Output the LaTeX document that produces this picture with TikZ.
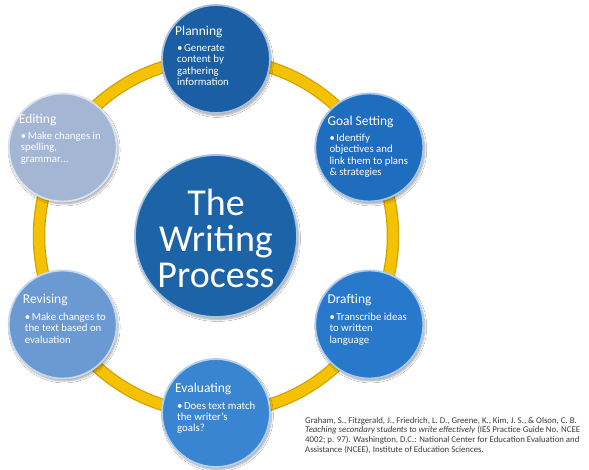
\documentclass[tikz,border=0pt]{standalone}
\usepackage{fontspec}
\setmainfont{Carlito}
\usetikzlibrary{positioning,shadows.blur}
\definecolor{aro}{HTML}{F4C200}
\definecolor{arof}{HTML}{D4A000}
\definecolor{azulc}{HTML}{1C63A7}
\definecolor{azul1}{HTML}{1B5EA4}
\definecolor{azul2}{HTML}{1E6DBE}
\definecolor{azul3}{HTML}{2878CB}
\definecolor{azul4}{HTML}{3A85D1}
\definecolor{azul5}{HTML}{6A9AD1}
\definecolor{azul6}{HTML}{A3B6D4}
\definecolor{cita}{HTML}{3A3A3A}
\newcommand{\bul}{\textbullet\hspace{1.5pt}}

\begin{document}
\begin{tikzpicture}[x=1pt,y=-1pt,
  stage/.style={circle,minimum size=108pt,inner sep=0pt,fill=#1,
    draw=white!62!#1,line width=1.8pt,
    blur shadow={shadow xshift=1.5pt,shadow yshift=-2.5pt,shadow opacity=35,shadow blur steps=6}},
  title/.style={font=\fontsize{13.5}{15}\selectfont,text=white,inner sep=0pt,anchor=north west},
  body/.style={font=\fontsize{10.8}{11.2}\selectfont,text=white,inner sep=0pt,align=left,
    below=6.5pt of #1.south west,anchor=north west,xshift=2pt}]
  \useasboundingbox (0,0) rectangle (589,470);
  \fill[white] (0,0) rectangle (589,470);

  % ring behind the stages
  \draw[arof,line width=12.5pt] (216,236) circle (177pt);
  \draw[aro,line width=10pt] (216,236) circle (177pt);

  % centre
  \node[stage=azulc,minimum size=162pt] (core) at (216,236) {};
  \node[text=white,align=center,font=\fontsize{38}{36}\selectfont] (core-t) at (216,238) {The\\Writing\\Process};

  % stages
  \node[stage=azul1] (plan) at (216,59) {};
  \node[stage=azul2] (goal) at (369.3,147.5) {};
  \node[stage=azul3] (draft) at (369.3,324.5) {};
  \node[stage=azul4] (eval) at (216,413) {};
  \node[stage=azul5] (revise) at (62.7,324.5) {};
  \node[stage=azul6] (edit) at (62.7,147.5) {};

  \node[title] (plan-t) at ([xshift=-41pt,yshift=33pt]plan.center) {Planning};
  \node[body=plan-t] (plan-b) {\bul Generate\\content by\\gathering\\information};

  \node[title] (goal-t) at ([xshift=-42pt,yshift=32pt]goal.center) {Goal Setting};
  \node[body=goal-t] (goal-b) {\bul Identify\\objectives and\\link them to plans\\\& strategies};

  \node[title] (draft-t) at ([xshift=-42pt,yshift=30pt]draft.center) {Drafting};
  \node[body=draft-t] (draft-b) {\bul Transcribe ideas\\to written\\language};

  \node[title] (eval-t) at ([xshift=-41pt,yshift=30pt]eval.center) {Evaluating};
  \node[body=eval-t] (eval-b) {\bul Does text match\\the writer’s\\goals?};

  \node[title] (revise-t) at ([xshift=-40pt,yshift=30pt]revise.center) {Revising};
  \node[body=revise-t] (revise-b) {\bul Make changes to\\the text based on\\evaluation};

  \node[title] (edit-t) at ([xshift=-44pt,yshift=34pt]edit.center) {Editing};
  \node[body=edit-t] (edit-b) {\bul Make changes in\\spelling,\\grammar…};

  % reference
  \node[anchor=north west,inner sep=0pt,align=left,text=cita,
        font=\fontsize{8.8}{9.6}\selectfont] (cite) at (305,417)
    {Graham, S., Fitzgerald, J., Friedrich, L. D., Greene, K., Kim, J. S., \& Olson, C. B.\\
     \textit{Teaching secondary students to write effectively} (IES Practice Guide No. NCEE\\
     4002; p. 97). Washington, D.C.: National Center for Education Evaluation and\\
     Assistance (NCEE), Institute of Education Sciences.};
\end{tikzpicture}
\end{document}
